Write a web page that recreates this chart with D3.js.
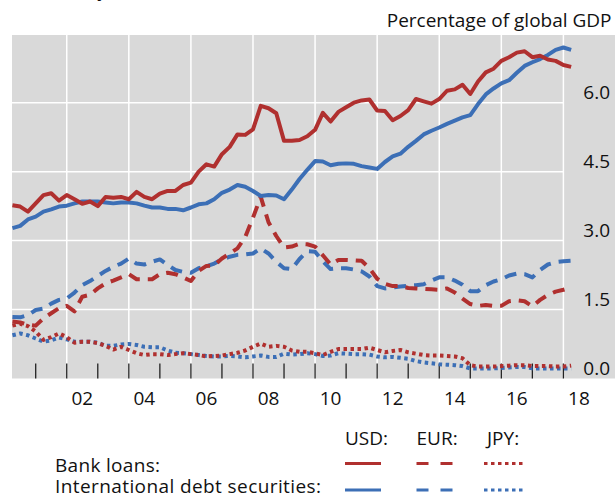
<!DOCTYPE html>
<html>
<head>
<meta charset="utf-8">
<script src="https://cdn.jsdelivr.net/npm/d3@7"></script>
<style>
    body { margin: 0; background: #fff; }
    svg text { font-family: "Open Sans", "Noto Sans", sans-serif; fill: #111; }
</style>
</head>
<body>
<svg id="chart" width="615" height="499"></svg>
<script>
// quarterly observations, first one is Q1 2000, last one Q1 2018
var firstQuarter = 2000.25;

var usdLoans = [3.77, 3.74, 3.63, 3.81, 3.99, 4.03, 3.87, 3.99, 3.90, 3.80, 3.85, 3.75,
    3.95, 3.93, 3.95, 3.90, 4.06, 3.95, 3.90, 4.02, 4.08, 4.08, 4.21, 4.26,
    4.50, 4.66, 4.61, 4.88, 5.04, 5.31, 5.30, 5.42, 5.93, 5.88, 5.77, 5.17,
    5.17, 5.19, 5.27, 5.41, 5.78, 5.59, 5.80, 5.90, 6.00, 6.05, 6.07, 5.83,
    5.82, 5.62, 5.71, 5.84, 6.08, 6.03, 5.98, 6.08, 6.26, 6.29, 6.39, 6.19,
    6.46, 6.66, 6.74, 6.91, 6.99, 7.09, 7.12, 6.99, 7.02, 6.94, 6.91, 6.82, 6.78];

var usdSecurities = [3.27, 3.32, 3.46, 3.52, 3.63, 3.68, 3.74, 3.76, 3.81, 3.85, 3.85, 3.85,
    3.83, 3.81, 3.83, 3.83, 3.81, 3.76, 3.72, 3.72, 3.69, 3.69, 3.66, 3.72,
    3.79, 3.81, 3.90, 4.04, 4.11, 4.21, 4.17, 4.08, 3.97, 3.99, 3.98, 3.90,
    4.11, 4.34, 4.54, 4.73, 4.72, 4.64, 4.67, 4.68, 4.67, 4.62, 4.59, 4.56,
    4.71, 4.83, 4.89, 5.04, 5.17, 5.31, 5.39, 5.46, 5.54, 5.61, 5.68, 5.73,
    5.97, 6.18, 6.31, 6.42, 6.49, 6.65, 6.80, 6.88, 6.95, 7.04, 7.15, 7.20, 7.15];

var eurLoans = [1.24, 1.22, 1.17, 1.15, 1.31, 1.42, 1.53, 1.58, 1.46, 1.78, 1.82, 1.96,
    2.07, 2.13, 2.20, 2.27, 2.16, 2.16, 2.16, 2.27, 2.30, 2.27, 2.20, 2.12,
    2.34, 2.45, 2.46, 2.61, 2.72, 2.83, 3.08, 3.50, 3.95, 3.40, 3.10, 2.85,
    2.87, 2.93, 2.92, 2.87, 2.68, 2.48, 2.58, 2.58, 2.57, 2.56, 2.40, 2.17,
    2.06, 2.01, 2.01, 1.97, 1.96, 1.95, 1.94, 1.93, 1.96, 1.87, 1.74, 1.62,
    1.58, 1.60, 1.58, 1.58, 1.68, 1.70, 1.68, 1.57, 1.71, 1.82, 1.89, 1.93, 1.98];

var eurSecurities = [1.34, 1.33, 1.38, 1.49, 1.52, 1.63, 1.71, 1.74, 1.87, 2.03, 2.12, 2.23,
    2.34, 2.43, 2.50, 2.61, 2.50, 2.48, 2.54, 2.59, 2.47, 2.36, 2.32, 2.30,
    2.40, 2.44, 2.50, 2.59, 2.65, 2.69, 2.70, 2.72, 2.83, 2.72, 2.54, 2.40,
    2.38, 2.60, 2.77, 2.76, 2.55, 2.38, 2.40, 2.40, 2.37, 2.33, 2.22, 2.01,
    1.96, 1.98, 2.00, 2.02, 2.03, 2.05, 2.13, 2.20, 2.20, 2.13, 2.04, 1.90,
    1.90, 2.03, 2.11, 2.16, 2.24, 2.28, 2.27, 2.20, 2.36, 2.48, 2.53, 2.55, 2.56];

var jpyLoans = [1.15, 1.19, 1.14, 1.02, 0.84, 0.90, 0.98, 0.90, 0.78, 0.80, 0.80, 0.77,
    0.71, 0.63, 0.69, 0.62, 0.55, 0.51, 0.53, 0.53, 0.51, 0.53, 0.55, 0.53,
    0.51, 0.48, 0.49, 0.50, 0.53, 0.56, 0.61, 0.69, 0.76, 0.69, 0.71, 0.69,
    0.61, 0.58, 0.58, 0.55, 0.51, 0.58, 0.64, 0.64, 0.64, 0.64, 0.67, 0.62,
    0.57, 0.60, 0.62, 0.57, 0.54, 0.51, 0.50, 0.50, 0.49, 0.48, 0.44, 0.29,
    0.26, 0.26, 0.26, 0.27, 0.28, 0.29, 0.29, 0.27, 0.27, 0.27, 0.26, 0.26, 0.28];

var jpySecurities = [0.94, 0.98, 0.94, 0.87, 0.80, 0.83, 0.89, 0.85, 0.80, 0.80, 0.80, 0.78,
    0.71, 0.71, 0.74, 0.75, 0.73, 0.69, 0.68, 0.68, 0.61, 0.56, 0.55, 0.53,
    0.51, 0.49, 0.48, 0.48, 0.49, 0.48, 0.46, 0.48, 0.50, 0.47, 0.47, 0.54,
    0.52, 0.53, 0.55, 0.53, 0.49, 0.50, 0.55, 0.54, 0.53, 0.53, 0.52, 0.48,
    0.46, 0.47, 0.45, 0.43, 0.38, 0.35, 0.33, 0.31, 0.30, 0.29, 0.27, 0.22,
    0.22, 0.22, 0.22, 0.23, 0.24, 0.25, 0.25, 0.22, 0.22, 0.22, 0.22, 0.22, 0.22];

var yTicks = [0, 1.5, 3.0, 4.5, 6.0];
var yearTicks = d3.range(2001, 2019);
var yearLabels = ["02", "04", "06", "08", "10", "12", "14", "16", "18"];
var currencies = ["USD:", "EUR:", "JPY:"];
var instruments = ["Bank loans:", "International debt securities:"];

var red = "#b0302f", blue = "#3c6fb6";
var dashes = { USD: null, EUR: "12,8", JPY: "3.5,3.5" };

var svg = d3.select("#chart");
var plot = { left: 12, right: 615, top: 35, bottom: 378.5 };

var x = d3.scaleLinear().domain([2001, 2018]).range([35.7, 563.4]);
var y = d3.scaleLinear().domain([0, 6]).range([plot.bottom, 102.7]);

svg.append("rect")
    .attr("x", plot.left).attr("y", plot.top)
    .attr("width", plot.right - plot.left).attr("height", plot.bottom - plot.top)
    .attr("fill", "#d9d9d9");

svg.append("clipPath").attr("id", "clip")
    .append("rect")
    .attr("x", plot.left).attr("y", plot.top)
    .attr("width", plot.right - plot.left).attr("height", plot.bottom - plot.top);

// gridlines
svg.append("g").selectAll("line.v")
    .data(yearTicks.filter(function (d) { return d % 2 == 0; }))
    .enter().append("line")
    .attr("x1", function (d) { return x(d); }).attr("x2", function (d) { return x(d); })
    .attr("y1", plot.top).attr("y2", plot.bottom)
    .attr("stroke", "#fff").attr("stroke-width", 1.5);

svg.append("g").selectAll("line.h")
    .data(yTicks.filter(function (d) { return d > 0; }))
    .enter().append("line")
    .attr("x1", plot.left).attr("x2", x(2018))
    .attr("y1", function (d) { return y(d); }).attr("y2", function (d) { return y(d); })
    .attr("stroke", "#fff").attr("stroke-width", 1.5);

// year ticks along the bottom
svg.append("g").selectAll("line")
    .data(yearTicks)
    .enter().append("line")
    .attr("x1", function (d) { return x(d); }).attr("x2", function (d) { return x(d); })
    .attr("y1", plot.bottom - 15).attr("y2", plot.bottom)
    .attr("stroke", "#222").attr("stroke-width", 1.3);

svg.append("g").selectAll("text")
    .data(yearLabels)
    .enter().append("text")
    .attr("x", function (d) { return x(2000 + (+d) + 0.5); })
    .attr("y", 405)
    .attr("text-anchor", "middle")
    .style("font-size", "19px")
    .text(function (d) { return d; });

svg.append("g").selectAll("text")
    .data(yTicks)
    .enter().append("text")
    .attr("x", 610)
    .attr("y", function (d) { return y(d) - 4; })
    .attr("text-anchor", "end")
    .style("font-size", "19px")
    .text(function (d) { return d.toFixed(1); });

svg.append("text")
    .attr("x", 611.5).attr("y", 26.5)
    .attr("text-anchor", "end")
    .style("font-size", "19px")
    .text("Percentage of global GDP");

// the chart title sits above the crop, only a descender shows
svg.append("text")
    .attr("x", 27).attr("y", -3)
    .style("font-size", "19px")
    .text("Currency");

var series = [
    { values: jpySecurities, color: blue, dash: dashes.JPY },
    { values: jpyLoans, color: red, dash: dashes.JPY },
    { values: eurSecurities, color: blue, dash: dashes.EUR },
    { values: eurLoans, color: red, dash: dashes.EUR },
    { values: usdSecurities, color: blue, dash: dashes.USD },
    { values: usdLoans, color: red, dash: dashes.USD }
];

var line = d3.line()
    .x(function (d, i) { return x(firstQuarter + i * 0.25); })
    .y(function (d) { return y(d); });

svg.append("g")
    .attr("clip-path", "url(#clip)")
    .selectAll("path")
    .data(series)
    .enter().append("path")
    .attr("d", function (d) { return line(d.values); })
    .attr("fill", "none")
    .attr("stroke", function (d) { return d.color; })
    .attr("stroke-width", 4)
    .attr("stroke-dasharray", function (d) { return d.dash; })
    .attr("stroke-linejoin", "round");

// legend
var legendX = [345, 416.5, 487];
var legendY = [463.5, 490];
var labelWidths = [105, 266];

svg.append("g").selectAll("text")
    .data(currencies)
    .enter().append("text")
    .attr("x", function (d, i) { return legendX[i]; })
    .attr("y", 445)
    .style("font-size", "19px")
    .text(function (d) { return d; });

svg.append("g").selectAll("text")
    .data(instruments)
    .enter().append("text")
    .attr("x", 55)
    .attr("y", function (d, i) { return legendY[i] + (i == 0 ? 8 : 3); })
    .attr("textLength", function (d, i) { return labelWidths[i]; })
    .attr("lengthAdjust", "spacing")
    .style("font-size", "19px")
    .text(function (d) { return d; });

var keys = [];
instruments.forEach(function (inst, r) {
    ["USD", "EUR", "JPY"].forEach(function (cur, c) {
        keys.push({ row: r, col: c, color: r == 0 ? red : blue, dash: dashes[cur] });
    });
});

svg.append("g").selectAll("line")
    .data(keys)
    .enter().append("line")
    .attr("x1", function (d) { return legendX[d.col] - (d.col == 2 ? 3 : 0); })
    .attr("x2", function (d) { return legendX[d.col] + 36; })
    .attr("y1", function (d) { return legendY[d.row]; })
    .attr("y2", function (d) { return legendY[d.row]; })
    .attr("stroke", function (d) { return d.color; })
    .attr("stroke-width", 3)
    .attr("stroke-dasharray", function (d) { return d.col == 1 ? "12,12" : d.dash; });
</script>
</body>
</html>
